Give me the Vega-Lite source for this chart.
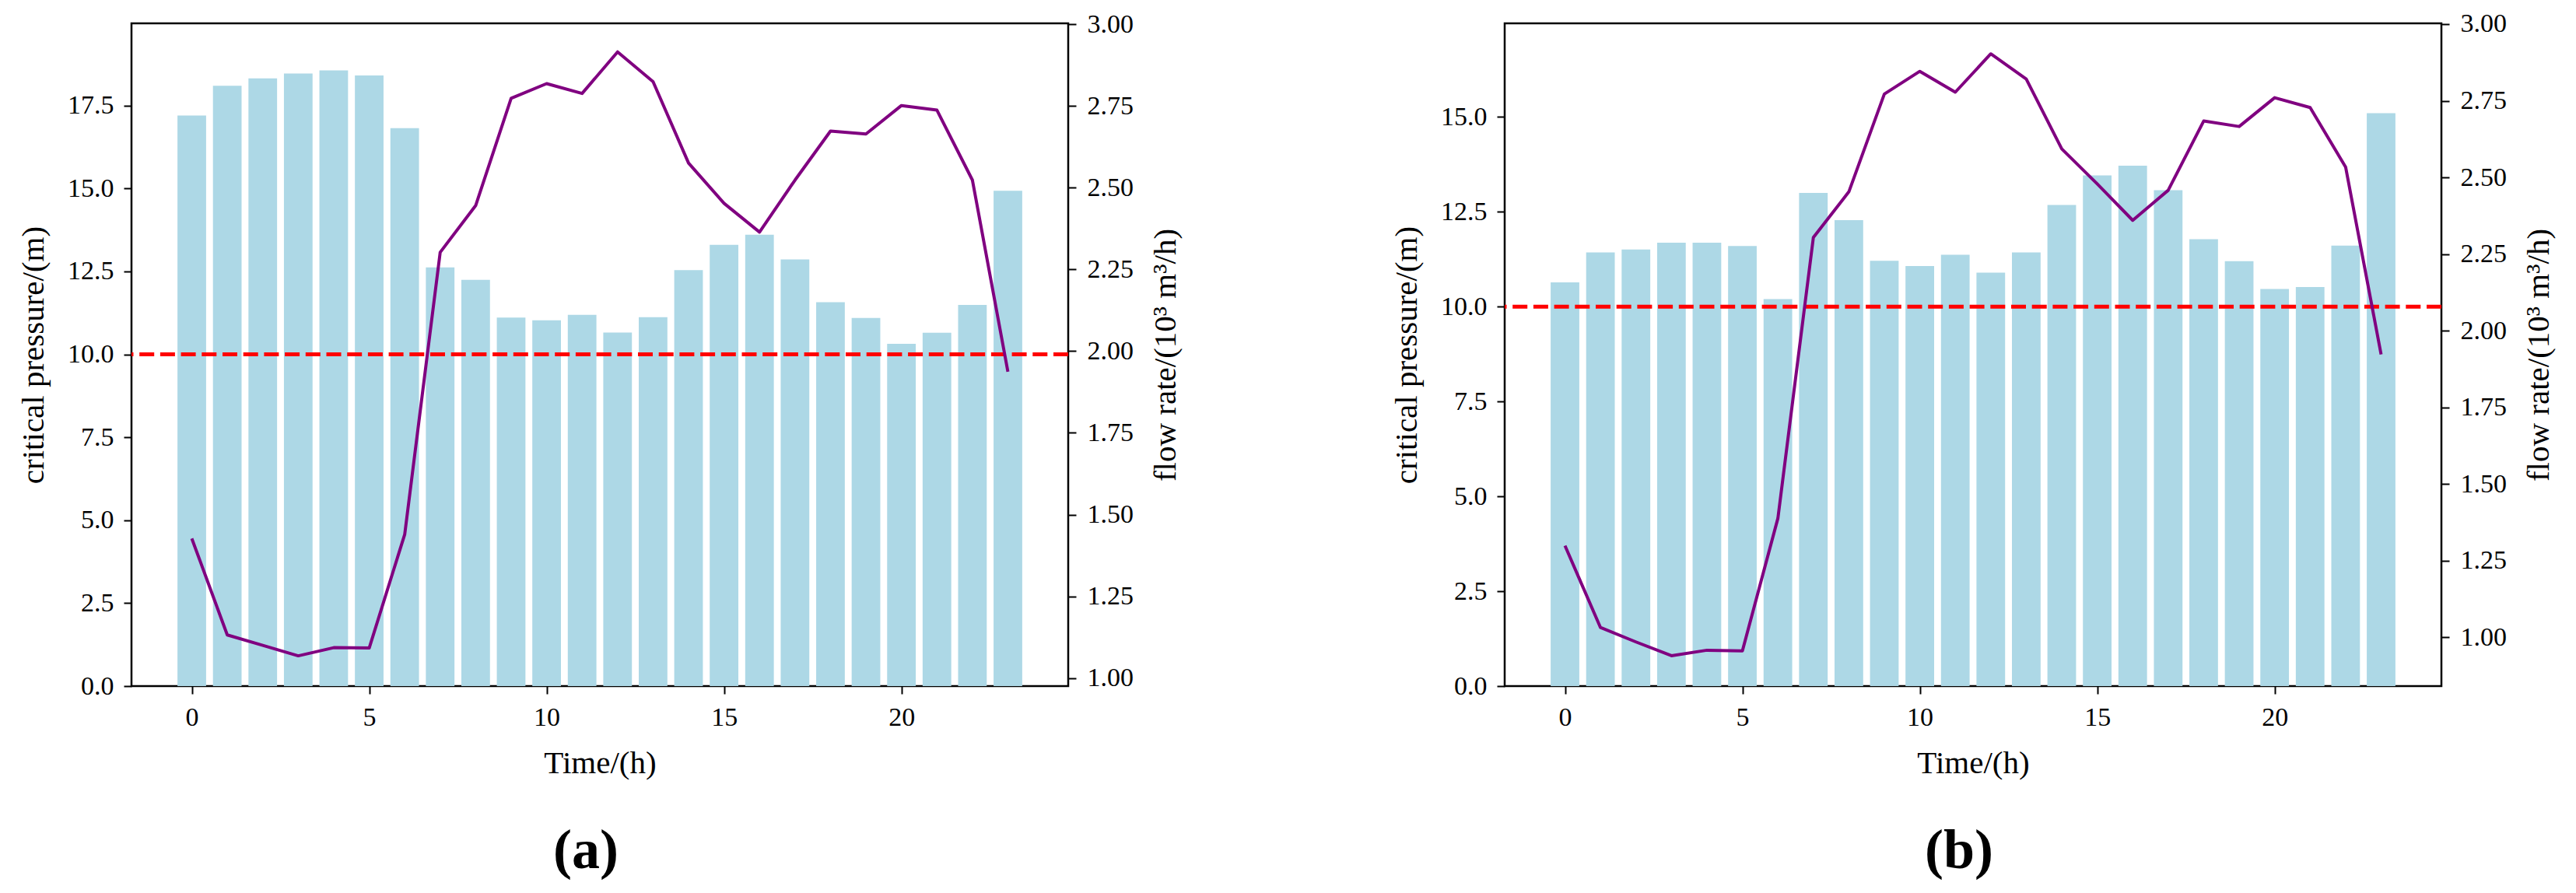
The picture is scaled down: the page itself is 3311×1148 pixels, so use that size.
{
  "$schema": "https://vega.github.io/schema/vega-lite/v6.json",
  "padding": {"left": 21, "top": 12, "right": 5, "bottom": 5},
  "datasets": {
    "a": [
      {"hour": 0, "pressure": 17.2, "flow": 1.427},
      {"hour": 1, "pressure": 18.1, "flow": 1.132},
      {"hour": 2, "pressure": 18.32, "flow": 1.1},
      {"hour": 3, "pressure": 18.47, "flow": 1.068},
      {"hour": 4, "pressure": 18.56, "flow": 1.093},
      {"hour": 5, "pressure": 18.41, "flow": 1.092},
      {"hour": 6, "pressure": 16.82, "flow": 1.439},
      {"hour": 7, "pressure": 12.62, "flow": 2.302},
      {"hour": 8, "pressure": 12.25, "flow": 2.445},
      {"hour": 9, "pressure": 11.11, "flow": 2.773},
      {"hour": 10, "pressure": 11.03, "flow": 2.818},
      {"hour": 11, "pressure": 11.19, "flow": 2.788},
      {"hour": 12, "pressure": 10.66, "flow": 2.915},
      {"hour": 13, "pressure": 11.12, "flow": 2.824},
      {"hour": 14, "pressure": 12.54, "flow": 2.575},
      {"hour": 15, "pressure": 13.3, "flow": 2.452},
      {"hour": 16, "pressure": 13.61, "flow": 2.364},
      {"hour": 17, "pressure": 12.86, "flow": 2.523},
      {"hour": 18, "pressure": 11.57, "flow": 2.673},
      {"hour": 19, "pressure": 11.1, "flow": 2.664},
      {"hour": 20, "pressure": 10.32, "flow": 2.751},
      {"hour": 21, "pressure": 10.65, "flow": 2.737},
      {"hour": 22, "pressure": 11.49, "flow": 2.523},
      {"hour": 23, "pressure": 14.93, "flow": 1.937}
    ],
    "b": [
      {"hour": 0, "pressure": 10.64, "flow": 1.299},
      {"hour": 1, "pressure": 11.43, "flow": 1.032},
      {"hour": 2, "pressure": 11.51, "flow": 0.985},
      {"hour": 3, "pressure": 11.69, "flow": 0.94},
      {"hour": 4, "pressure": 11.69, "flow": 0.958},
      {"hour": 5, "pressure": 11.6, "flow": 0.956},
      {"hour": 6, "pressure": 10.2, "flow": 1.388},
      {"hour": 7, "pressure": 13.0, "flow": 2.304},
      {"hour": 8, "pressure": 12.28, "flow": 2.453},
      {"hour": 9, "pressure": 11.21, "flow": 2.772},
      {"hour": 10, "pressure": 11.07, "flow": 2.846},
      {"hour": 11, "pressure": 11.37, "flow": 2.778},
      {"hour": 12, "pressure": 10.9, "flow": 2.903},
      {"hour": 13, "pressure": 11.43, "flow": 2.821},
      {"hour": 14, "pressure": 12.68, "flow": 2.593},
      {"hour": 15, "pressure": 13.46, "flow": 2.479},
      {"hour": 16, "pressure": 13.72, "flow": 2.36},
      {"hour": 17, "pressure": 13.07, "flow": 2.458},
      {"hour": 18, "pressure": 11.78, "flow": 2.684},
      {"hour": 19, "pressure": 11.2, "flow": 2.666},
      {"hour": 20, "pressure": 10.47, "flow": 2.76},
      {"hour": 21, "pressure": 10.52, "flow": 2.728},
      {"hour": 22, "pressure": 11.61, "flow": 2.534},
      {"hour": 23, "pressure": 15.1, "flow": 1.923}
    ]
  },
  "spacing": 266,
  "hconcat": [
    {
      "width": 1204,
      "height": 852,
      "data": {"name": "a"},
      "title": {"text": "(a)", "orient": "bottom", "fontSize": 72, "fontWeight": "bold", "offset": 58, "dx": -18},
      "layer": [
        {
          "mark": {"type": "bar", "color": "#ADD8E6", "width": 36.8},
          "encoding": {
            "x": {
              "field": "hour",
              "type": "quantitative",
              "scale": {"domain": [-1.59, 24.59], "nice": false, "zero": false},
              "axis": {"values": [0, 5, 10, 15, 20], "format": "d", "title": "Time/(h)"}
            },
            "y": {
              "field": "pressure",
              "type": "quantitative",
              "scale": {"domain": [0, 19.98], "nice": false},
              "axis": {"orient": "left", "values": [0, 2.5, 5, 7.5, 10, 12.5, 15, 17.5], "format": ".1f", "title": "critical pressure/(m)"}
            }
          }
        },
        {
          "data": {"values": [{"threshold": 10}]},
          "mark": {"type": "rule", "color": "#FF0000", "strokeWidth": 5, "strokeDash": [19, 7.7]},
          "encoding": {
            "y": {"field": "threshold", "type": "quantitative", "scale": {"domain": [0, 19.98], "nice": false}, "axis": null}
          }
        },
        {
          "mark": {"type": "line", "color": "#800080", "strokeWidth": 4, "strokeJoin": "round"},
          "encoding": {
            "x": {"field": "hour", "type": "quantitative"},
            "y": {
              "field": "flow",
              "type": "quantitative",
              "scale": {"domain": [0.9755, 3.0024], "nice": false, "zero": false},
              "axis": {"orient": "right", "values": [1, 1.25, 1.5, 1.75, 2, 2.25, 2.5, 2.75, 3], "format": ".2f", "title": "flow rate/(10³  m³/h)", "titleAngle": 270, "titleBaseline": "top", "labelPadding": 14}
            }
          }
        }
      ],
      "resolve": {"scale": {"y": "independent"}, "axis": {"y": "independent"}}
    },
    {
      "width": 1204,
      "height": 852,
      "data": {"name": "b"},
      "title": {"text": "(b)", "orient": "bottom", "fontSize": 72, "fontWeight": "bold", "offset": 58, "dx": -18},
      "layer": [
        {
          "mark": {"type": "bar", "color": "#ADD8E6", "width": 36.8},
          "encoding": {
            "x": {
              "field": "hour",
              "type": "quantitative",
              "scale": {"domain": [-1.59, 24.59], "nice": false, "zero": false},
              "axis": {"values": [0, 5, 10, 15, 20], "format": "d", "title": "Time/(h)"}
            },
            "y": {
              "field": "pressure",
              "type": "quantitative",
              "scale": {"domain": [0, 17.47], "nice": false},
              "axis": {"orient": "left", "values": [0, 2.5, 5, 7.5, 10, 12.5, 15], "format": ".1f", "title": "critical pressure/(m)"}
            }
          }
        },
        {
          "data": {"values": [{"threshold": 10}]},
          "mark": {"type": "rule", "color": "#FF0000", "strokeWidth": 5, "strokeDash": [19, 7.7]},
          "encoding": {
            "y": {"field": "threshold", "type": "quantitative", "scale": {"domain": [0, 17.47], "nice": false}, "axis": null}
          }
        },
        {
          "mark": {"type": "line", "color": "#800080", "strokeWidth": 4, "strokeJoin": "round"},
          "encoding": {
            "x": {"field": "hour", "type": "quantitative"},
            "y": {
              "field": "flow",
              "type": "quantitative",
              "scale": {"domain": [0.841, 3.0025], "nice": false, "zero": false},
              "axis": {"orient": "right", "values": [1, 1.25, 1.5, 1.75, 2, 2.25, 2.5, 2.75, 3], "format": ".2f", "title": "flow rate/(10³  m³/h)", "titleAngle": 270, "titleBaseline": "top", "labelPadding": 14}
            }
          }
        }
      ],
      "resolve": {"scale": {"y": "independent"}, "axis": {"y": "independent"}}
    }
  ],
  "config": {
    "font": "Liberation Serif",
    "view": {"stroke": "#000000", "strokeWidth": 2.5},
    "title": {"font": "Liberation Serif", "color": "#000000"},
    "axis": {
      "domain": false,
      "grid": false,
      "ticks": true,
      "tickColor": "#000000",
      "tickSize": 10,
      "tickWidth": 2,
      "labelFont": "Liberation Serif",
      "labelFontSize": 34,
      "labelColor": "#000000",
      "labelPadding": 13,
      "titleFont": "Liberation Serif",
      "titleFontSize": 41,
      "titleFontWeight": "normal",
      "titleColor": "#000000",
      "titlePadding": 22
    }
  }
}
